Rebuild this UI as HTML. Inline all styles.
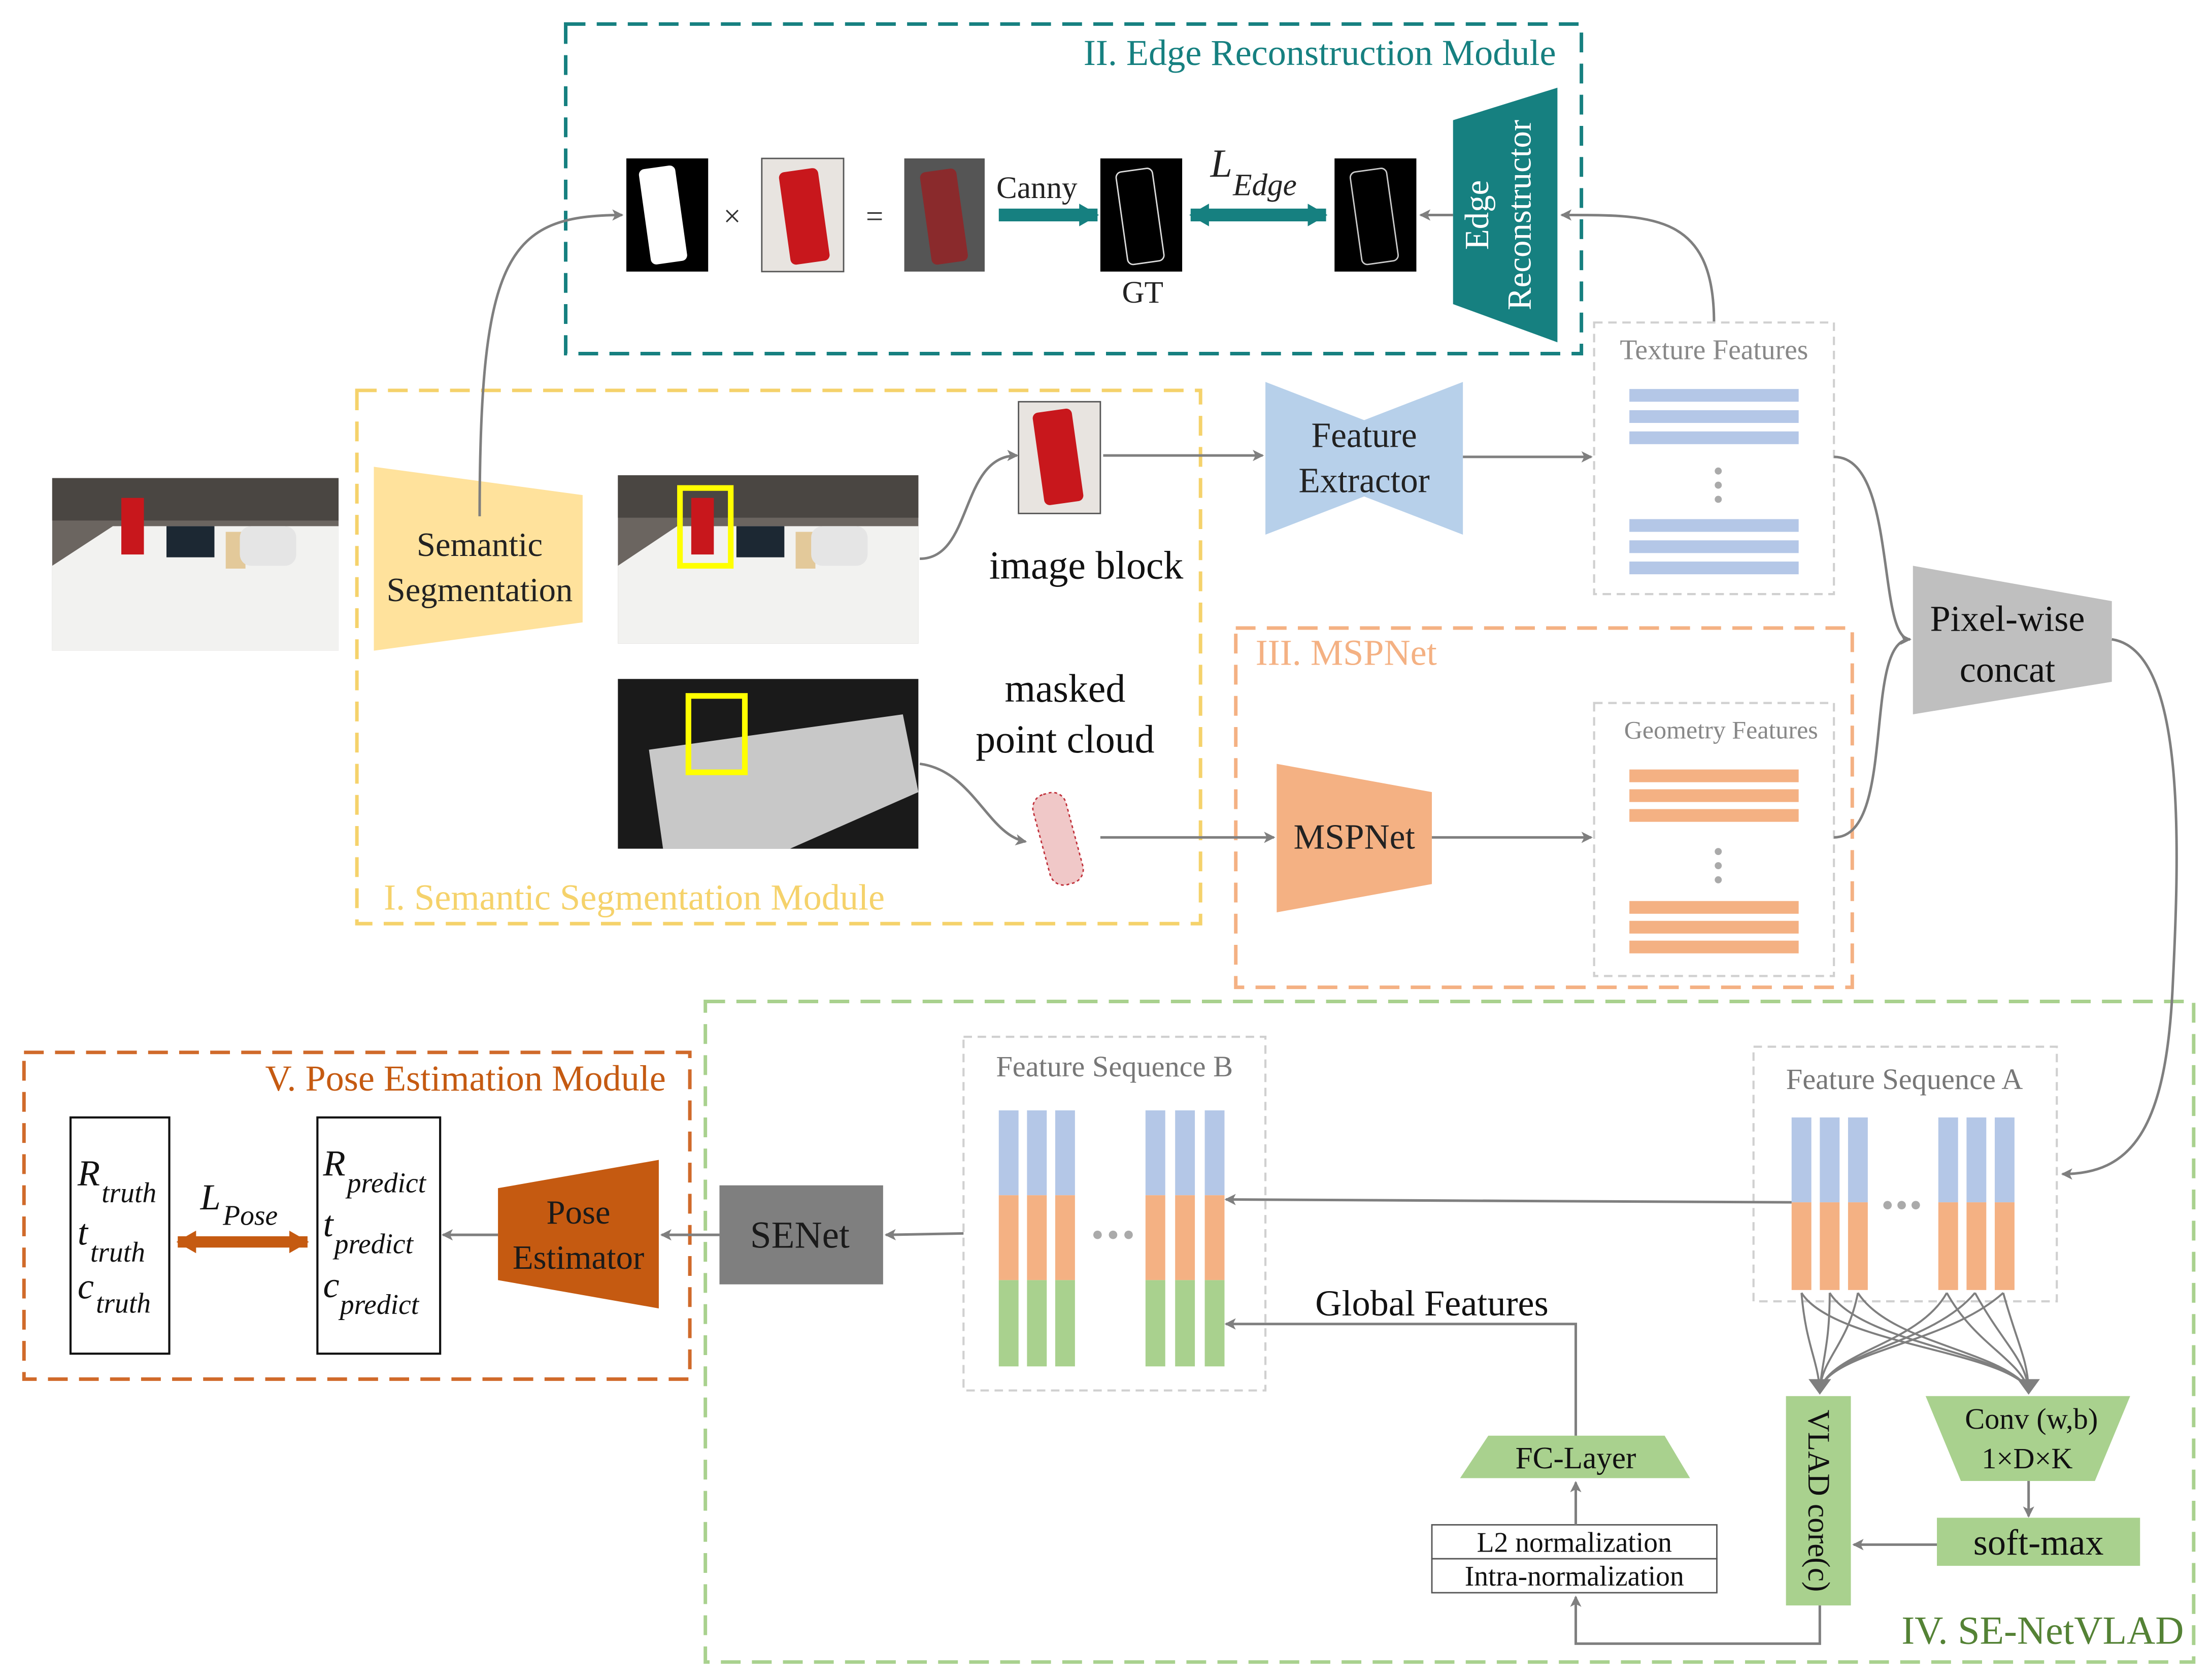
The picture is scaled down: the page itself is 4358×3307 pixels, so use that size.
<!DOCTYPE html>
<html><head><meta charset="utf-8"><style>
html,body{margin:0;padding:0;background:#fff;}
svg{display:block;font-family:"Liberation Serif","DejaVu Serif",serif;}
text{font-family:"Liberation Serif","DejaVu Serif",serif;}
</style></head><body>
<svg width="4358" height="3307" viewBox="0 0 1568 1187" preserveAspectRatio="none" xmlns="http://www.w3.org/2000/svg" font-family="Liberation Serif, DejaVu Serif, serif">
<defs>
<marker id="ar" markerWidth="8" markerHeight="8" refX="7" refY="4" orient="auto" markerUnits="userSpaceOnUse"><path d="M0,0 L8,4 L0,8 L2,4 z" fill="#7f7f7f"/></marker>
<marker id="art" markerWidth="14" markerHeight="16" refX="13" refY="8" orient="auto" markerUnits="userSpaceOnUse"><path d="M0,0 L14,8 L0,16 z" fill="#168080"/></marker>
<marker id="arts" markerWidth="14" markerHeight="16" refX="1" refY="8" orient="auto" markerUnits="userSpaceOnUse"><path d="M14,0 L0,8 L14,16 z" fill="#168080"/></marker>
<marker id="aro" markerWidth="14" markerHeight="16" refX="13" refY="8" orient="auto" markerUnits="userSpaceOnUse"><path d="M0,0 L14,8 L0,16 z" fill="#c55a11"/></marker>
<marker id="aros" markerWidth="14" markerHeight="16" refX="1" refY="8" orient="auto" markerUnits="userSpaceOnUse"><path d="M14,0 L0,8 L14,16 z" fill="#c55a11"/></marker>
</defs>

<rect x="401" y="17" width="720" height="233" fill="none" stroke="#168080" stroke-width="2.5" stroke-dasharray="14,8"/>
<text x="1103" y="46" font-size="26" fill="#168080" text-anchor="end">II. Edge Reconstruction Module</text>
<rect x="253" y="276" width="598" height="377" fill="none" stroke="#f5d26b" stroke-width="2.5" stroke-dasharray="14,8"/>
<text x="272" y="643" font-size="26" fill="#f5d26b">I. Semantic Segmentation Module</text>
<rect x="876" y="444" width="437" height="254" fill="none" stroke="#f4b183" stroke-width="2.5" stroke-dasharray="14,8"/>
<text x="890" y="470" font-size="26" fill="#f4b183">III. MSPNet</text>
<rect x="500" y="708" width="1055" height="467" fill="none" stroke="#a9d18e" stroke-width="2.5" stroke-dasharray="14,8"/>
<text x="1548" y="1162" font-size="28" fill="#548235" text-anchor="end">IV. SE-NetVLAD</text>
<rect x="17" y="744" width="472" height="231" fill="none" stroke="#d06a2a" stroke-width="2.5" stroke-dasharray="14,8"/>
<text x="472" y="771" font-size="26" fill="#c55a11" text-anchor="end">V. Pose Estimation Module</text>

<rect x="444" y="112" width="58" height="80" fill="#000"/>
<rect x="457" y="118" width="26" height="68" rx="4" fill="#fff" transform="rotate(-8 470 152)"/>
<text x="519" y="160" font-size="22" fill="#333" text-anchor="middle">×</text>
<rect x="540" y="112" width="58" height="80" fill="#e8e4e0" stroke="#555"/>
<rect x="556" y="120" width="28" height="66" rx="4" fill="#c8171c" transform="rotate(-8 570 152)"/>
<text x="620" y="160" font-size="22" fill="#333" text-anchor="middle">=</text>
<rect x="641" y="112" width="57" height="80" fill="#555"/>
<rect x="656" y="120" width="26" height="66" rx="4" fill="#8a2a2c" transform="rotate(-8 670 152)"/>
<line x1="708" y1="152" x2="778" y2="152" stroke="#168080" stroke-width="9" marker-end="url(#art)"/>
<text x="735" y="140" font-size="22" fill="#222" text-anchor="middle">Canny</text>
<rect x="780" y="112" width="58" height="80" fill="#000"/>
<rect x="795" y="120" width="26" height="66" rx="4" fill="none" stroke="#ddd" transform="rotate(-8 808 152)"/>
<text x="810" y="214" font-size="22" fill="#222" text-anchor="middle">GT</text>
<line x1="844" y1="152" x2="940" y2="152" stroke="#168080" stroke-width="9" marker-end="url(#art)" marker-start="url(#arts)"/>
<text x="858" y="125" font-size="28" font-style="italic" fill="#222">L</text><text x="874" y="138" font-size="22" font-style="italic" fill="#222">Edge</text>
<rect x="946" y="112" width="58" height="80" fill="#000"/>
<rect x="961" y="120" width="26" height="66" rx="4" fill="none" stroke="#ccc" transform="rotate(-8 974 152)"/>
<line x1="1030" y1="152" x2="1007" y2="152" stroke="#7f7f7f" stroke-width="1.8" marker-end="url(#ar)"/>
<polygon points="1030,85 1104,62 1104,242 1030,215" fill="#168080"/>
<text transform="translate(1055,152) rotate(-90)" font-size="24" fill="#fff" text-anchor="middle">Edge</text>
<text transform="translate(1085,152) rotate(-90)" font-size="24" fill="#fff" text-anchor="middle">Reconstructor</text>
<path d="M1215,228 C1215,150 1170,152 1107,152" fill="none" stroke="#7f7f7f" stroke-width="1.8" marker-end="url(#ar)"/>

<rect x="37" y="338" width="203" height="122" fill="#6b6560"/>
<polygon points="37,400 80,372 240,372 240,460 37,460" fill="#f2f2f0"/>
<rect x="37" y="338" width="203" height="30" fill="#4a4642"/>
<rect x="86" y="352" width="16" height="40" fill="#c8171c"/>
<rect x="118" y="372" width="34" height="22" fill="#1c2833"/>
<rect x="160" y="376" width="14" height="26" fill="#e3c99a"/>
<rect x="170" y="372" width="40" height="28" rx="8" fill="#e5e5e5"/>

<polygon points="265,330 413,350 413,440 265,460" fill="#ffe29c"/>
<text x="340" y="393" font-size="24" fill="#222" text-anchor="middle">Semantic</text>
<text x="340" y="425" font-size="24" fill="#222" text-anchor="middle">Segmentation</text>
<path d="M340,365 C340,180 360,152 441,152" fill="none" stroke="#7f7f7f" stroke-width="1.8" marker-end="url(#ar)"/>

<rect x="438" y="336" width="213" height="119" fill="#6b6560"/>
<polygon points="438,400 480,372 651,372 651,455 438,455" fill="#f2f2f0"/>
<rect x="438" y="336" width="213" height="30" fill="#4a4642"/>
<rect x="490" y="352" width="16" height="40" fill="#c8171c"/>
<rect x="522" y="372" width="34" height="22" fill="#1c2833"/>
<rect x="564" y="376" width="14" height="26" fill="#e3c99a"/>
<rect x="575" y="372" width="40" height="28" rx="8" fill="#e5e5e5"/>
<rect x="482" y="345" width="36" height="55" fill="none" stroke="#ffff00" stroke-width="4"/>

<rect x="438" y="480" width="213" height="120" fill="#1a1a1a"/>
<polygon points="460,530 640,505 651,560 560,600 470,600" fill="#c8c8c8"/>
<rect x="488" y="492" width="40" height="54" fill="none" stroke="#ffff00" stroke-width="4"/>

<rect x="722" y="284" width="58" height="79" fill="#e8e4e0" stroke="#555"/>
<rect x="736" y="290" width="28" height="66" rx="4" fill="#c8171c" transform="rotate(-8 750 323)"/>
<text x="770" y="409" font-size="28" fill="#111" text-anchor="middle">image block</text>
<path d="M652,395 C690,395 680,322 721,322" fill="none" stroke="#7f7f7f" stroke-width="1.8" marker-end="url(#ar)"/>
<line x1="782" y1="322" x2="895" y2="322" stroke="#7f7f7f" stroke-width="1.8" marker-end="url(#ar)"/>

<text x="755" y="496" font-size="28" fill="#111" text-anchor="middle">masked</text>
<text x="755" y="532" font-size="28" fill="#111" text-anchor="middle">point cloud</text>
<rect x="738" y="560" width="24" height="66" rx="10" fill="#f0c8c8" stroke="#c0303a" stroke-dasharray="2,2" transform="rotate(-15 750 593)"/>
<path d="M652,540 C690,545 700,590 727,595" fill="none" stroke="#7f7f7f" stroke-width="1.8" marker-end="url(#ar)"/>
<line x1="780" y1="592" x2="903" y2="592" stroke="#7f7f7f" stroke-width="1.8" marker-end="url(#ar)"/>

<polygon points="897,270 967,297 1037,270 1037,378 967,351 897,378" fill="#b7d0ea"/>
<text x="967" y="316" font-size="25" fill="#222" text-anchor="middle">Feature</text>
<text x="967" y="348" font-size="25" fill="#222" text-anchor="middle">Extractor</text>
<line x1="1037" y1="323" x2="1128" y2="323" stroke="#7f7f7f" stroke-width="1.8" marker-end="url(#ar)"/>

<rect x="1130" y="228" width="170" height="192" fill="none" stroke="#d0d0d0" stroke-width="1.5" stroke-dasharray="6,4"/>
<text x="1215" y="254" font-size="20" fill="#888" text-anchor="middle">Texture Features</text>
<g fill="#b4c7e7">
<rect x="1155" y="275" width="120" height="9"/><rect x="1155" y="290" width="120" height="9"/><rect x="1155" y="305" width="120" height="9"/>
<rect x="1155" y="367" width="120" height="9"/><rect x="1155" y="382" width="120" height="9"/><rect x="1155" y="397" width="120" height="9"/>
</g>
<g fill="#aaa"><circle cx="1218" cy="333" r="2.5"/><circle cx="1218" cy="343" r="2.5"/><circle cx="1218" cy="353" r="2.5"/></g>

<polygon points="905,540 1015,560 1015,625 905,645" fill="#f4b183"/>
<text x="960" y="600" font-size="25" fill="#222" text-anchor="middle">MSPNet</text>
<line x1="1015" y1="592" x2="1128" y2="592" stroke="#7f7f7f" stroke-width="1.8" marker-end="url(#ar)"/>
<rect x="1130" y="497" width="170" height="193" fill="none" stroke="#d0d0d0" stroke-width="1.5" stroke-dasharray="6,4"/>
<text x="1220" y="522" font-size="18" fill="#888" text-anchor="middle">Geometry Features</text>
<g fill="#f4b183">
<rect x="1155" y="544" width="120" height="9"/><rect x="1155" y="558" width="120" height="9"/><rect x="1155" y="572" width="120" height="9"/>
<rect x="1155" y="637" width="120" height="9"/><rect x="1155" y="651" width="120" height="9"/><rect x="1155" y="665" width="120" height="9"/>
</g>
<g fill="#aaa"><circle cx="1218" cy="602" r="2.5"/><circle cx="1218" cy="612" r="2.5"/><circle cx="1218" cy="622" r="2.5"/></g>

<path d="M1300,323 C1345,323 1330,452 1354,452" fill="none" stroke="#7f7f7f" stroke-width="1.8" marker-end="url(#ar)"/>
<path d="M1300,592 C1345,592 1320,452 1354,452" fill="none" stroke="#7f7f7f" stroke-width="1.8"/>
<polygon points="1356,400 1497,425 1497,482 1356,505" fill="#bfbfbf"/>
<text x="1423" y="446" font-size="26" fill="#111" text-anchor="middle">Pixel-wise</text>
<text x="1423" y="482" font-size="26" fill="#111" text-anchor="middle">concat</text>
<path d="M1497,452 C1550,460 1545,600 1540,700 C1535,800 1510,830 1462,830" fill="none" stroke="#7f7f7f" stroke-width="1.8" marker-end="url(#ar)"/>

<rect x="1243" y="740" width="215" height="180" fill="none" stroke="#d0d0d0" stroke-width="1.5" stroke-dasharray="6,4"/>
<text x="1350" y="770" font-size="21" fill="#777" text-anchor="middle">Feature Sequence A</text>
<g>
<rect x="1270" y="790" width="14" height="60" fill="#b4c7e7"/><rect x="1270" y="850" width="14" height="62" fill="#f4b183"/>
<rect x="1290" y="790" width="14" height="60" fill="#b4c7e7"/><rect x="1290" y="850" width="14" height="62" fill="#f4b183"/>
<rect x="1310" y="790" width="14" height="60" fill="#b4c7e7"/><rect x="1310" y="850" width="14" height="62" fill="#f4b183"/>
<rect x="1374" y="790" width="14" height="60" fill="#b4c7e7"/><rect x="1374" y="850" width="14" height="62" fill="#f4b183"/>
<rect x="1394" y="790" width="14" height="60" fill="#b4c7e7"/><rect x="1394" y="850" width="14" height="62" fill="#f4b183"/>
<rect x="1414" y="790" width="14" height="60" fill="#b4c7e7"/><rect x="1414" y="850" width="14" height="62" fill="#f4b183"/>
</g>
<g fill="#aaa"><circle cx="1338" cy="852" r="3"/><circle cx="1348" cy="852" r="3"/><circle cx="1358" cy="852" r="3"/></g>
<line x1="1270" y1="850" x2="869" y2="848" stroke="#7f7f7f" stroke-width="1.8" marker-end="url(#ar)"/>

<g fill="none" stroke="#7f7f7f" stroke-width="1.4">
<path d="M1277,914 C1280,950 1288,960 1290,982"/><path d="M1297,914 C1297,950 1292,960 1290,982"/><path d="M1317,914 C1310,950 1292,960 1290,982"/>
<path d="M1380,914 C1360,950 1300,955 1290,982"/><path d="M1400,914 C1370,950 1300,955 1290,982"/><path d="M1420,914 C1380,950 1300,955 1290,982"/>
<path d="M1277,914 C1300,950 1420,955 1438,982"/><path d="M1297,914 C1320,950 1420,955 1438,982"/><path d="M1317,914 C1340,950 1420,955 1438,982"/>
<path d="M1380,914 C1400,950 1430,960 1438,982"/><path d="M1400,914 C1420,950 1435,960 1438,982"/><path d="M1420,914 C1430,950 1437,960 1438,982"/>
</g>
<path d="M1282,975 L1298,975 L1290,986 z" fill="#7f7f7f"/>
<path d="M1430,975 L1446,975 L1438,986 z" fill="#7f7f7f"/>

<rect x="1266" y="987" width="46" height="148" fill="#a9d18e"/>
<text transform="translate(1282,1061) rotate(90)" font-size="22" fill="#111" text-anchor="middle">VLAD core(c)</text>
<polygon points="1365,987 1510,987 1485,1047 1390,1047" fill="#a9d18e"/>
<text x="1440" y="1010" font-size="21" fill="#111" text-anchor="middle">Conv (w,b)</text>
<text x="1437" y="1038" font-size="21" fill="#111" text-anchor="middle">1×D×K</text>
<line x1="1438" y1="1047" x2="1438" y2="1072" stroke="#7f7f7f" stroke-width="1.8" marker-end="url(#ar)"/>
<rect x="1373" y="1073" width="144" height="34" fill="#a9d18e"/>
<text x="1445" y="1099" font-size="26" fill="#111" text-anchor="middle">soft-max</text>
<line x1="1373" y1="1092" x2="1314" y2="1092" stroke="#7f7f7f" stroke-width="1.8" marker-end="url(#ar)"/>
<path d="M1290,1135 L1290,1162 L1117,1162 L1117,1129" fill="none" stroke="#7f7f7f" stroke-width="1.8" marker-end="url(#ar)"/>

<rect x="1015" y="1078" width="202" height="24" fill="#fff" stroke="#555"/>
<rect x="1015" y="1102" width="202" height="24" fill="#fff" stroke="#555"/>
<text x="1116" y="1097" font-size="20" fill="#111" text-anchor="middle">L2 normalization</text>
<text x="1116" y="1121" font-size="20" fill="#111" text-anchor="middle">Intra-normalization</text>
<line x1="1117" y1="1078" x2="1117" y2="1048" stroke="#7f7f7f" stroke-width="1.8" marker-end="url(#ar)"/>
<polygon points="1055,1015 1180,1015 1198,1045 1035,1045" fill="#a9d18e"/>
<text x="1117" y="1038" font-size="22" fill="#111" text-anchor="middle">FC-Layer</text>
<path d="M1117,1015 L1117,936 L869,936" fill="none" stroke="#7f7f7f" stroke-width="1.8" marker-end="url(#ar)"/>
<text x="1015" y="930" font-size="26" fill="#111" text-anchor="middle">Global Features</text>

<rect x="683" y="733" width="214" height="250" fill="none" stroke="#d0d0d0" stroke-width="1.5" stroke-dasharray="6,4"/>
<text x="790" y="761" font-size="21" fill="#777" text-anchor="middle">Feature Sequence B</text>
<g>
<rect x="708" y="785" width="14" height="60" fill="#b4c7e7"/><rect x="708" y="845" width="14" height="60" fill="#f4b183"/><rect x="708" y="905" width="14" height="61" fill="#a9d18e"/>
<rect x="728" y="785" width="14" height="60" fill="#b4c7e7"/><rect x="728" y="845" width="14" height="60" fill="#f4b183"/><rect x="728" y="905" width="14" height="61" fill="#a9d18e"/>
<rect x="748" y="785" width="14" height="60" fill="#b4c7e7"/><rect x="748" y="845" width="14" height="60" fill="#f4b183"/><rect x="748" y="905" width="14" height="61" fill="#a9d18e"/>
<rect x="812" y="785" width="14" height="60" fill="#b4c7e7"/><rect x="812" y="845" width="14" height="60" fill="#f4b183"/><rect x="812" y="905" width="14" height="61" fill="#a9d18e"/>
<rect x="833" y="785" width="14" height="60" fill="#b4c7e7"/><rect x="833" y="845" width="14" height="60" fill="#f4b183"/><rect x="833" y="905" width="14" height="61" fill="#a9d18e"/>
<rect x="854" y="785" width="14" height="60" fill="#b4c7e7"/><rect x="854" y="845" width="14" height="60" fill="#f4b183"/><rect x="854" y="905" width="14" height="61" fill="#a9d18e"/>
</g>
<g fill="#aaa"><circle cx="778" cy="873" r="3"/><circle cx="789" cy="873" r="3"/><circle cx="800" cy="873" r="3"/></g>

<line x1="683" y1="872" x2="628" y2="873" stroke="#7f7f7f" stroke-width="1.8" marker-end="url(#ar)"/>
<rect x="510" y="838" width="116" height="70" fill="#7f7f7f"/>
<text x="567" y="882" font-size="27" fill="#1a1a1a" text-anchor="middle">SENet</text>
<line x1="510" y1="873" x2="469" y2="873" stroke="#7f7f7f" stroke-width="1.8" marker-end="url(#ar)"/>
<polygon points="353,840 467,820 467,925 353,905" fill="#c55a11"/>
<text x="410" y="865" font-size="24" fill="#1a1a1a" text-anchor="middle">Pose</text>
<text x="410" y="897" font-size="24" fill="#1a1a1a" text-anchor="middle">Estimator</text>
<line x1="353" y1="873" x2="314" y2="873" stroke="#7f7f7f" stroke-width="1.8" marker-end="url(#ar)"/>

<rect x="50" y="790" width="70" height="167" fill="#fff" stroke="#111" stroke-width="1.5"/>
<rect x="225" y="790" width="87" height="167" fill="#fff" stroke="#111" stroke-width="1.5"/>
<g font-style="italic" fill="#111">
<text x="55" y="838" font-size="26">R</text><text x="72" y="850" font-size="20">truth</text>
<text x="55" y="880" font-size="26">t</text><text x="64" y="892" font-size="20">truth</text>
<text x="55" y="918" font-size="26">c</text><text x="68" y="928" font-size="20">truth</text>
<text x="229" y="831" font-size="26">R</text><text x="246" y="843" font-size="20">predict</text>
<text x="229" y="874" font-size="26">t</text><text x="237" y="886" font-size="20">predict</text>
<text x="229" y="917" font-size="26">c</text><text x="241" y="929" font-size="20">predict</text>
<text x="142" y="855" font-size="26">L</text><text x="158" y="866" font-size="20">Pose</text>
</g>
<line x1="126" y1="878" x2="218" y2="878" stroke="#c55a11" stroke-width="8" marker-end="url(#aro)" marker-start="url(#aros)"/>
</svg>
</body></html>
